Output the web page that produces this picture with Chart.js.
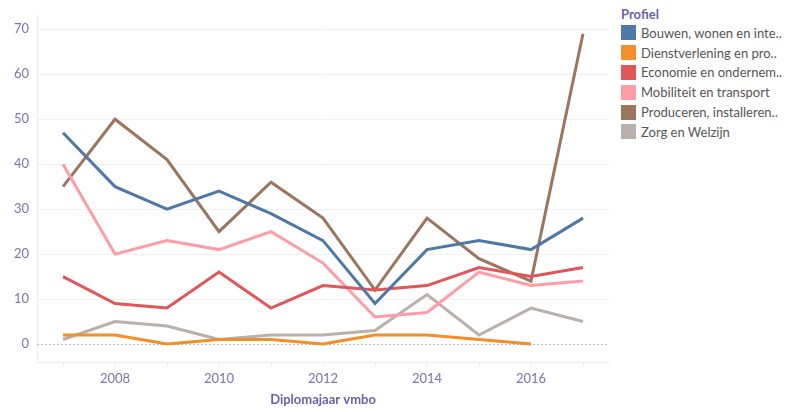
<!DOCTYPE html>
<html lang="nl">
<head>
<meta charset="UTF-8">
<title>Diplomajaar vmbo per profiel</title>
<script src="https://cdn.jsdelivr.net/npm/chart.js@4/dist/chart.umd.min.js"></script>
<style>
  body { margin: 0; background: #fff; font-family: Lato, "Open Sans", sans-serif; }
  #wrap { position: relative; width: 795px; height: 412px; }
  #chart { position: absolute; left: 0; top: 0; }
  #legend { position: absolute; left: 621px; top: 6px; }
  #legend .title { color: #6b5fad; font-weight: bold; font-size: 13px; height: 17px; line-height: 17px; }
  #legend .row { height: 19.8px; display: flex; align-items: center; font-size: 13px; color: #555; }
  #legend .box { width: 15px; height: 15px; margin-right: 5px; }
</style>
</head>
<body>
<div id="wrap">
  <canvas id="chart" width="612" height="412"></canvas>
  <div id="legend"></div>
</div>
<script>
// years on the x axis
var years = [2007, 2008, 2009, 2010, 2011, 2012, 2013, 2014, 2015, 2016, 2017]
var yTicks = [0, 10, 20, 30, 40, 50, 60, 70]

var profielen = [
  "Bouwen, wonen en inte..",
  "Dienstverlening en pro..",
  "Economie en ondernem..",
  "Mobiliteit en transport",
  "Produceren, installeren..",
  "Zorg en Welzijn"
]
var kleuren = ["#4e79a7", "#f28e2b", "#e15759", "#ff9da7", "#9c755f", "#bab0ac"]

var bouwen          = [47, 35, 30, 34, 29, 23, 9, 21, 23, 21, 28]
var dienstverlening = [2, 2, 0, 1, 1, 0, 2, 2, 1, 0, null]
var economie        = [15, 9, 8, 16, 8, 13, 12, 13, 17, 15, 17]
var mobiliteit      = [40, 20, 23, 21, 25, 18, 6, 7, 16, 13, 14]
var produceren      = [35, 50, 41, 25, 36, 28, 12, 28, 19, 14, 69]
var zorg            = [1, 5, 4, 1, 2, 2, 3, 11, 2, 8, 5]

var reeksen = [bouwen, dienstverlening, economie, mobiliteit, produceren, zorg]

var datasets = reeksen.map(function (r, i) {
  return {
    label: profielen[i],
    data: years.map(function (y, j) { return { x: y, y: r[j] } }),
    borderColor: kleuren[i],
    backgroundColor: kleuren[i],
    borderWidth: 3,
    pointRadius: 0,
    tension: 0,
    fill: false
  }
})

// legend in html, next to the canvas
var legend = document.getElementById("legend")
var html = '<div class="title">Profiel</div>'
for (var i = 0; i < profielen.length; i++) {
  html += '<div class="row"><div class="box" style="background:' + kleuren[i] + '"></div>' + profielen[i] + '</div>'
}
legend.innerHTML = html

var tickKleur = "#7b72b3"

// dashed line at zero
var nulLijn = {
  id: "nulLijn",
  beforeDatasetsDraw: function (chart) {
    var ctx = chart.ctx, y = chart.scales.y.getPixelForValue(0), a = chart.chartArea
    ctx.save()
    ctx.strokeStyle = "#bbbbbb"
    ctx.lineWidth = 1
    ctx.setLineDash([2, 2])
    ctx.beginPath()
    ctx.moveTo(a.left, Math.round(y) + 0.5)
    ctx.lineTo(a.right, Math.round(y) + 0.5)
    ctx.stroke()
    ctx.restore()
  }
}

new Chart(document.getElementById("chart"), {
  type: "line",
  data: { datasets: datasets },
  plugins: [nulLijn],
  options: {
    responsive: false,
    animation: false,
    layout: { padding: { top: 5, right: 3, left: 0, bottom: 0 } },
    plugins: { legend: { display: false }, tooltip: { enabled: false } },
    scales: {
      x: {
        type: "linear",
        min: 2006.5,
        max: 2017.5,
        afterBuildTicks: function (s) { s.ticks = years.map(function (v) { return { value: v } }) },
        afterFit: function (s) { s.height = 50 },
        ticks: {
          color: tickKleur,
          font: { family: "Lato", size: 13 },
          padding: 4,
          maxRotation: 0,
          autoSkip: false,
          callback: function (v) { return v % 2 === 0 ? String(v) : "" }
        },
        grid: { drawOnChartArea: false, drawTicks: true, tickLength: 5, color: "#ececec" },
        border: { color: "#ececec" },
        title: {
          display: true,
          text: "Diplomajaar vmbo",
          color: "#6b5fad",
          font: { family: "Lato", size: 13, weight: "bold" },
          padding: { top: 4, bottom: 4 }
        }
      },
      y: {
        min: -4,
        max: 73,
        afterBuildTicks: function (s) { s.ticks = yTicks.map(function (v) { return { value: v } }) },
        afterFit: function (s) { s.width = 37 },
        ticks: {
          color: tickKleur,
          font: { family: "Lato", size: 13 },
          padding: 8
        },
        grid: {
          drawTicks: false,
          color: function (c) { return c.tick && c.tick.value === 0 ? "rgba(0,0,0,0)" : "#f0f0f0" }
        },
        border: { color: "#ececec" }
      }
    }
  }
})
</script>
</body>
</html>
